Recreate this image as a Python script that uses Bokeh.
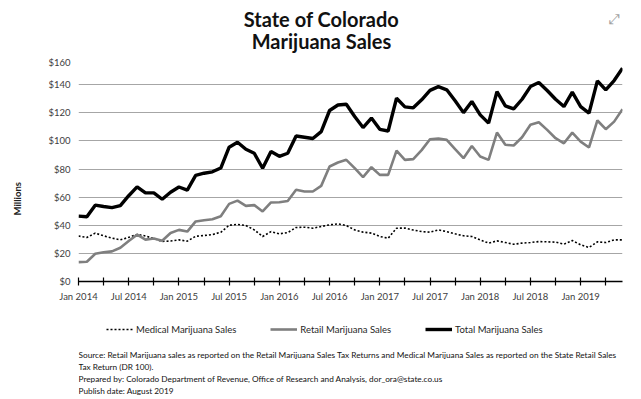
from bokeh.plotting import figure
from bokeh.layouts import column
from bokeh.models import (ColumnDataSource, FixedTicker, Label, Legend, LegendItem,
                          NumeralTickFormatter, Range1d, Title)
from bokeh.embed import file_html
from bokeh.resources import INLINE

# Monthly sales, $ millions, Jan 2014 - Jun 2019
total = [46.5, 46.0, 54.3, 53.3, 52.5, 54.0, 61.0, 67.3, 63.0, 63.0, 58.5, 63.5,
         67.2, 65.0, 75.5, 77.0, 78.0, 80.7, 95.5, 99.0, 94.0, 91.2, 80.5, 92.4,
         89.0, 91.2, 103.5, 102.6, 101.7, 106.6, 121.6, 125.5, 126.0, 117.3, 109.5, 116.2,
         108.2, 107.0, 130.3, 124.2, 123.5, 129.2, 135.9, 138.6, 136.3, 128.5, 120.1, 128.0,
         118.5, 112.6, 135.0, 124.9, 122.7, 129.6, 138.6, 141.5, 135.8, 129.6, 124.4, 134.6,
         124.4, 119.7, 142.7, 136.3, 142.9, 151.7]
retail = [13.8, 14.0, 19.7, 20.8, 21.4, 24.0, 28.8, 33.3, 29.8, 30.6, 29.0, 34.5,
          36.7, 35.5, 42.7, 43.6, 44.3, 46.4, 55.2, 57.5, 53.8, 54.3, 49.8, 56.2,
          56.4, 57.3, 65.2, 64.0, 64.0, 68.0, 81.8, 84.6, 86.5, 80.6, 74.2, 81.3,
          75.8, 75.8, 93.1, 86.5, 87.0, 93.4, 101.2, 101.7, 100.7, 94.1, 87.7, 96.4,
          88.9, 86.5, 105.9, 97.2, 96.7, 102.6, 111.4, 113.3, 107.8, 101.9, 98.3, 105.9,
          99.5, 95.3, 114.5, 108.3, 113.7, 122.5]
medical = [32.3, 31.3, 34.4, 32.5, 30.9, 29.6, 31.4, 33.5, 32.4, 30.5, 28.5, 28.8,
           29.6, 28.7, 32.2, 32.7, 33.4, 35.0, 40.0, 40.6, 39.8, 36.7, 32.0, 35.5,
           33.9, 34.8, 38.4, 38.6, 37.9, 39.1, 40.3, 41.0, 39.8, 36.7, 35.1, 34.4,
           32.0, 30.8, 37.9, 38.0, 36.6, 35.5, 35.1, 36.7, 35.5, 33.9, 32.5, 32.0,
           29.6, 27.3, 28.9, 27.7, 26.5, 27.3, 27.7, 28.4, 28.2, 28.0, 26.5, 29.1,
           26.1, 24.2, 28.2, 27.7, 29.6, 29.6]
months = list(range(len(total)))
tick_labels = ["Jan 2014", "Jul 2014", "Jan 2015", "Jul 2015", "Jan 2016", "Jul 2016",
               "Jan 2017", "Jul 2017", "Jan 2018", "Jul 2018", "Jan 2019"]
y_ticks = [0, 20, 40, 60, 80, 100, 120, 140, 160]
series_names = ["Medical Marijuana Sales", "Retail Marijuana Sales", "Total Marijuana Sales"]
notes = ["Source: Retail Marijuana sales as reported on the Retail Marijuana Sales Tax Returns and Medical Marijuana Sales as reported on the State Retail Sales",
         "Tax Return (DR 100).",
         "Prepared by: Colorado Department of Revenue, Office of Research and Analysis, dor_ora@state.co.us",
         "Publish date: August 2019"]

FONT = "Lato"
W, H = 641, 399
FRAME_L, FRAME_R, FRAME_T, FRAME_B = 78, 622, 56, 281
LEFT, RIGHT = FRAME_L, W - FRAME_R
H_TOP = FRAME_T
H_MAIN = 310 - FRAME_T
H_BOT = H - 310

COLS = ["medical", "retail", "total"]
STYLES = [dict(line_color="black", line_width=1.6, line_dash="2 2"),
          dict(line_color="#7f7f7f", line_width=2.6),
          dict(line_color="black", line_width=3.4)]

src = ColumnDataSource(dict(m=months, total=total, retail=retail, medical=medical))


def blank_fig(h):
    f = figure(width=W, height=h, output_backend="svg", toolbar_location=None,
               x_range=Range1d(0, 1), y_range=Range1d(0, 1),
               x_axis_location=None, y_axis_location=None,
               min_border_left=LEFT, min_border_right=RIGHT, min_border_top=0,
               min_border_bottom=0, outline_line_color=None,
               background_fill_color="white", border_fill_color="white")
    f.xgrid.visible = False
    f.ygrid.visible = False
    return f


def lab(f, top_y, h, text, x_img, y_img, size, bold=False, align="left",
        color="#111111", font=FONT):
    # frame of f spans image x FRAME_L..FRAME_R and image y top_y..top_y+h
    f.add_layout(Label(x=x_img - FRAME_L, y=top_y + h - y_img, x_units="screen",
                       y_units="screen", text=text, text_font=font, text_font_size=size,
                       text_font_style="bold" if bold else "normal",
                       text_align=align, text_baseline="middle", text_color=color))


# ---------- top: titles ----------
top = blank_fig(H_TOP)
lab(top, 0, H_TOP, "State of Colorado", 321, 18, "20px", bold=True, align="center")
lab(top, 0, H_TOP, "Marijuana Sales", 321, 40, "20px", bold=True, align="center")
lab(top, 0, H_TOP, "\u2922", 614, 18, "14px", align="center", color="#a0a0a0",
    font="DejaVu Sans")

# ---------- main chart ----------
p = figure(width=W, height=H_MAIN, output_backend="svg", toolbar_location=None,
           x_range=Range1d(0, len(total) - 1), y_range=Range1d(0, 160),
           min_border_left=LEFT, min_border_right=RIGHT, min_border_top=0,
           min_border_bottom=H_MAIN - (FRAME_B - FRAME_T),
           background_fill_color="white", border_fill_color="white",
           outline_line_color=None)

major = [i * 6 for i in range(len(tick_labels))]
minor = [i * 6 + 3 for i in range(len(tick_labels))]
p.xaxis.ticker = FixedTicker(ticks=major, minor_ticks=minor)
p.xaxis.major_label_overrides = {t: s for t, s in zip(major, tick_labels)}
p.xaxis.axis_line_color = "black"
p.xaxis.axis_line_width = 1.5
p.xaxis.major_tick_line_color = "black"
p.xaxis.minor_tick_line_color = "black"
p.xaxis.major_tick_line_width = 1.2
p.xaxis.minor_tick_line_width = 1.2
p.xaxis.major_tick_in = 4
p.xaxis.major_tick_out = 4
p.xaxis.minor_tick_in = 4
p.xaxis.minor_tick_out = 4
p.xaxis.major_label_standoff = 5
p.xaxis.major_label_text_font = FONT
p.xaxis.major_label_text_font_size = "9.5px"
p.xaxis.major_label_text_color = "#404040"
p.xgrid.grid_line_color = None

p.yaxis.ticker = FixedTicker(ticks=y_ticks, minor_ticks=[])
p.yaxis.formatter = NumeralTickFormatter(format="$0")
p.yaxis.axis_line_color = None
p.yaxis.major_tick_line_color = None
p.yaxis.major_tick_in = 0
p.yaxis.major_tick_out = 0
p.yaxis.major_label_standoff = 8
p.yaxis.major_label_text_font = FONT
p.yaxis.major_label_text_font_size = "9.5px"
p.yaxis.major_label_text_color = "#404040"
# a blank axis label works as a spacer; "Millions" is a side title below it
p.yaxis.axis_label = " "
p.yaxis.axis_label_standoff = 18
p.yaxis.axis_label_text_font_size = "1px"
p.ygrid.ticker = FixedTicker(ticks=y_ticks[1:])
p.ygrid.grid_line_color = "#a6a6a6"
p.ygrid.grid_line_width = 1

for col, st in zip(COLS, STYLES):
    p.line("m", col, source=src, **st)

p.add_layout(Title(text="Millions", align="left", offset=66, vertical_align="middle",
                   standoff=0, text_font=FONT, text_font_size="9.5px",
                   text_font_style="bold", text_color="#222222"), "left")

# ---------- bottom: legend + notes ----------
bot = blank_fig(H_BOT)
# legend proxies: same series, but far outside this strip's 0..1 ranges
rs = [bot.line("m", col, source=src, **st) for col, st in zip(COLS, STYLES)]
legend = Legend(items=[LegendItem(label=n, renderers=[r]) for n, r in zip(series_names, rs)],
                orientation="horizontal", location=(106 - FRAME_L, H - 329 - 6),
                glyph_width=27, glyph_height=12, label_height=12, label_standoff=3,
                spacing=34, padding=0, margin=0, border_line_color=None,
                background_fill_alpha=0, label_text_font=FONT,
                label_text_font_size="9.5px", label_text_color="#262626")
bot.add_layout(legend, "center")

for t, yy in zip(notes, [354, 366, 378, 390]):
    lab(bot, 310, H_BOT, t, 78, yy, "8.25px", color="#111111")

layout = column(top, p, bot, spacing=0)
open("out.html", "w").write(file_html(layout, INLINE))
